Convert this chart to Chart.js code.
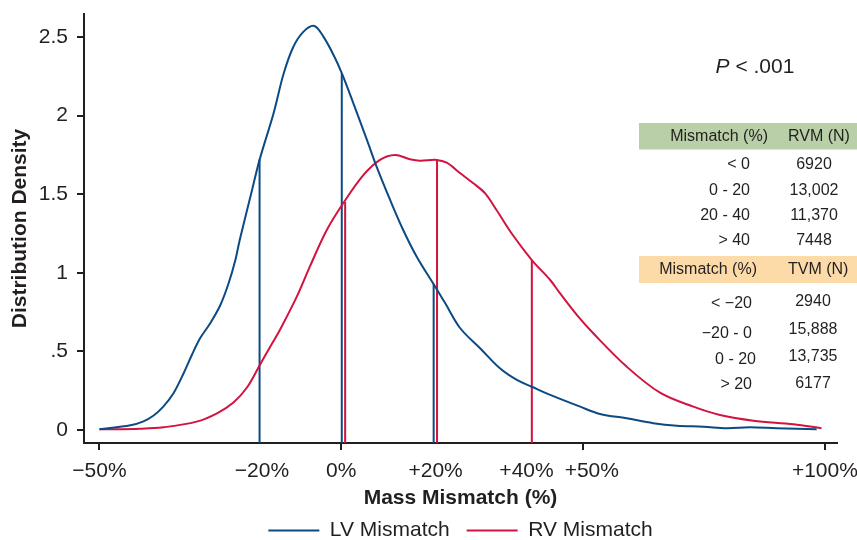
<!DOCTYPE html>
<html>
<head>
<meta charset="utf-8">
<script src="https://cdn.jsdelivr.net/npm/chart.js@4"></script>
<style>
  html, body { margin: 0; padding: 0; background: #ffffff; }
  #wrap { width: 857px; height: 540px; position: relative; }
</style>
</head>
<body>
<div id="wrap"><canvas id="chart" width="857" height="540"></canvas></div>
<script>
// Distribution density of mass mismatch (%) for LV and RV
const lvX = [-50, -43.6, -40.9, -38.8, -36.8, -34.7, -32.6, -30.9, -29.2, -27.1, -25.0, -23.3, -21.9, -21.0, -18.5, -16.9, -14.0, -11.9, -9.9, -7.8, -5.6, -3.7, -1.6, 0.1, 2.5, 5.3, 7.3, 10.1, 12.8, 15.6, 19.4, 21.5, 24.6, 28.7, 32.8, 36.3, 39.4, 43.2, 49.4, 53.5, 59.0, 64.5, 69.4, 74.9, 79.7, 84.5, 90.0, 98.3];
const lvY = [0.004, 0.030, 0.055, 0.092, 0.148, 0.233, 0.361, 0.477, 0.583, 0.679, 0.795, 0.933, 1.081, 1.209, 1.52, 1.718, 2.015, 2.269, 2.438, 2.534, 2.570, 2.502, 2.385, 2.270, 2.078, 1.845, 1.675, 1.463, 1.272, 1.102, 0.912, 0.806, 0.647, 0.520, 0.392, 0.318, 0.275, 0.223, 0.148, 0.102, 0.074, 0.043, 0.027, 0.021, 0.011, 0.017, 0.011, 0.004];

const rvX = [-50, -41.6, -36.8, -29.9, -25.7, -22.3, -19.5, -16.9, -14.7, -12.7, -9.2, -6.5, -3.0, 0.4, 4.6, 8.0, 11.1, 14.2, 16.3, 19.7, 21.8, 24.6, 27.3, 29.7, 32.1, 35.2, 39.4, 43.2, 45.2, 48.7, 52.1, 59.0, 65.9, 72.8, 78.3, 85.2, 93.5, 99.3];
const rvY = [0.004, 0.008, 0.017, 0.053, 0.106, 0.175, 0.270, 0.410, 0.530, 0.636, 0.848, 1.039, 1.272, 1.442, 1.622, 1.718, 1.749, 1.722, 1.713, 1.718, 1.700, 1.633, 1.569, 1.506, 1.399, 1.251, 1.081, 0.954, 0.870, 0.732, 0.615, 0.403, 0.237, 0.148, 0.095, 0.059, 0.036, 0.011];

// Cut-off markers (x position and curve height at that point)
const lvCutX = [-16.9, 0.1, 19.1];
const lvCutY = [1.72, 2.27, 0.93];
const rvCutX = [0.8, 19.8, 39.4];
const rvCutY = [1.45, 1.72, 1.08];

// Axis ticks (labels placed beside the cut-off markers; tick marks only where marked)
const xTickValues = [-50, -16.4, 0, 19.5, 38.3, 50, 51.8, 100];
const xTickLabels = ['\u221250%', '\u221220%', '0%', '+20%', '+40%', '', '+50%', '+100%'];
const xMarkedTicks = [-50, 0, 50, 100];
const yTickValues = [0, 0.5, 1, 1.5, 2, 2.5];
const yTickLabels = ['0', '.5', '1', '1.5', '2', '2.5'];

// Counts table
const rvmRanges = ['< 0', '0 - 20', '20 - 40', '> 40'];
const rvmCounts = ['6920', '13,002', '11,370', '7448'];
const tvmRanges = ['< \u221220', '\u221220 - 0', '0 - 20', '> 20'];
const tvmCounts = ['2940', '15,888', '13,735', '6177'];

const seriesNames = ['LV Mismatch', 'RV Mismatch'];
const pText = '< .001';

const X_MIN = -53.2, X_MAX = 102.5;
const Y_MIN = -0.083, Y_MAX = 2.646;

const INK = '#231f20';
const BLUE = '#0c4a84';
const RED = '#d3133f';
const FONT = "'Liberation Sans', Arial, Helvetica, sans-serif";

function toPoints(xs, ys) {
  return xs.map((x, i) => ({ x: x, y: ys[i] }));
}
function cutSegments(xs, ys) {
  const pts = [];
  xs.forEach((x, i) => {
    pts.push({ x: x, y: Y_MIN });
    pts.push({ x: x, y: ys[i] });
    pts.push({ x: x, y: null });
  });
  return pts;
}

const tablePlugin = {
  id: 'countsTable',
  afterDraw(chart) {
    const ctx = chart.ctx;
    ctx.save();
    // P value
    ctx.fillStyle = INK;
    ctx.textBaseline = 'middle';
    ctx.textAlign = 'left';
    ctx.font = 'italic 21px ' + FONT;
    const pW = ctx.measureText('P').width;
    ctx.font = '21px ' + FONT;
    const restW = ctx.measureText(' ' + pText).width;
    const px0 = 755 - (pW + restW) / 2;
    ctx.font = 'italic 21px ' + FONT;
    ctx.fillText('P', px0, 67);
    ctx.font = '21px ' + FONT;
    ctx.fillText(' ' + pText, px0 + pW, 67);

    // header bands
    ctx.fillStyle = '#b9cfa7';
    ctx.fillRect(639, 123, 218, 26.5);
    ctx.fillStyle = '#fcdba8';
    ctx.fillRect(639, 256, 218, 27);

    ctx.fillStyle = INK;
    ctx.font = '16px ' + FONT;
    ctx.textAlign = 'right';
    ctx.fillText('Mismatch (%)', 768, 137);
    ctx.fillText('Mismatch (%)', 757, 270);
    ctx.textAlign = 'left';
    ctx.fillText('RVM (N)', 788, 137);
    ctx.fillText('TVM (N)', 788, 270);

    const rvRowY = [165, 190.5, 215.5, 240.5];
    rvmRanges.forEach((t, i) => {
      ctx.textAlign = 'right';
      ctx.fillText(t, 750, rvRowY[i]);
      ctx.textAlign = 'center';
      ctx.fillText(rvmCounts[i], 814, rvRowY[i]);
    });
    const tvLabelY = [303.5, 334, 360, 385];
    const tvCountY = [301.5, 329.5, 357, 384];
    tvmRanges.forEach((t, i) => {
      ctx.textAlign = 'right';
      ctx.fillText(t, i === 2 ? 756 : 752, tvLabelY[i]);
      ctx.textAlign = 'center';
      ctx.fillText(tvmCounts[i], 813, tvCountY[i]);
    });
    ctx.restore();
  }
};

new Chart(document.getElementById('chart'), {
  type: 'line',
  data: {
    datasets: [
      {
        label: seriesNames[0],
        data: toPoints(lvX, lvY),
        borderColor: BLUE,
        backgroundColor: BLUE,
        borderWidth: 2,
        pointRadius: 0,
        tension: 0.35,
        fill: false,
        order: 1
      },
      {
        label: seriesNames[1],
        data: toPoints(rvX, rvY),
        borderColor: RED,
        backgroundColor: RED,
        borderWidth: 2,
        pointRadius: 0,
        tension: 0.35,
        fill: false,
        order: 2
      },
      {
        label: 'lv-cuts',
        data: cutSegments(lvCutX, lvCutY),
        borderColor: BLUE,
        borderWidth: 2,
        pointRadius: 0,
        tension: 0,
        spanGaps: false,
        fill: false,
        order: 3
      },
      {
        label: 'rv-cuts',
        data: cutSegments(rvCutX, rvCutY),
        borderColor: RED,
        borderWidth: 2,
        pointRadius: 0,
        tension: 0,
        spanGaps: false,
        fill: false,
        order: 4
      }
    ]
  },
  options: {
    responsive: false,
    animation: false,
    devicePixelRatio: 1,
    layout: { padding: { top: 14, right: 20, left: 0, bottom: 0 } },
    plugins: {
      tooltip: { enabled: false },
      title: { display: false },
      legend: {
        display: true,
        position: 'bottom',
        fullSize: false,
        maxHeight: 37,
        labels: {
          filter: (item) => item.datasetIndex < 2,
          usePointStyle: true,
          pointStyle: 'line',
          pointStyleWidth: 51,
          padding: 17,
          color: INK,
          font: { family: FONT, size: 21 }
        }
      }
    },
    scales: {
      x: {
        type: 'linear',
        min: X_MIN,
        max: X_MAX,
        afterBuildTicks: (scale) => { scale.ticks = xTickValues.map(v => ({ value: v })); },
        afterFit: (scale) => { scale.height = 60; scale.paddingLeft = 0; scale.paddingRight = 0; },
        ticks: {
          autoSkip: false,
          maxRotation: 0,
          minRotation: 0,
          padding: 9,
          color: INK,
          font: { family: FONT, size: 21 },
          callback: (value, index) => xTickLabels[index]
        },
        grid: {
          display: true,
          drawOnChartArea: false,
          drawTicks: true,
          tickLength: 7,
          lineWidth: 2,
          color: (ctx) => (ctx.tick && xMarkedTicks.includes(ctx.tick.value)) ? INK : 'rgba(0,0,0,0)'
        },
        border: { display: true, color: INK, width: 2 },
        title: {
          display: true,
          text: 'Mass Mismatch (%)',
          color: INK,
          font: { family: FONT, size: 21, weight: 'bold' },
          padding: { top: 0, bottom: -8 }
        }
      },
      y: {
        type: 'linear',
        min: Y_MIN,
        max: Y_MAX,
        afterBuildTicks: (scale) => { scale.ticks = yTickValues.map(v => ({ value: v })); },
        afterFit: (scale) => { scale.width = 84; scale.paddingTop = 0; scale.paddingBottom = 0; },
        ticks: {
          padding: 9,
          color: INK,
          font: { family: FONT, size: 21 },
          callback: (value, index) => yTickLabels[index]
        },
        grid: {
          display: true,
          drawOnChartArea: false,
          drawTicks: true,
          tickLength: 7,
          lineWidth: 2,
          color: INK
        },
        border: { display: true, color: INK, width: 2 },
        title: {
          display: true,
          text: 'Distribution Density',
          color: INK,
          font: { family: FONT, size: 21, weight: 'bold' },
          padding: { top: 8, bottom: 0 }
        }
      }
    }
  },
  plugins: [tablePlugin]
});
</script>
</body>
</html>
